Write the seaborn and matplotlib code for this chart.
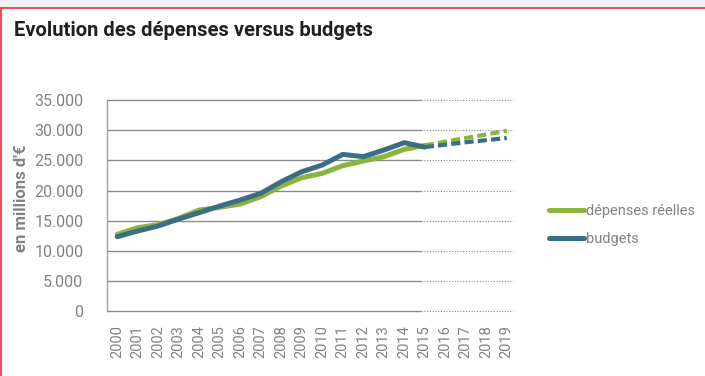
import matplotlib
matplotlib.use("Agg")
import matplotlib.pyplot as plt
from matplotlib import font_manager
from matplotlib.lines import Line2D
from matplotlib.patches import Rectangle
import seaborn as sns
import pandas as pd

years = list(range(2000, 2020))
actual_years = list(range(2000, 2016))
forecast_years = list(range(2015, 2020))

depenses_actual = [12750, 13850, 14350, 15400, 16780, 17220, 17770, 18990,
                   20750, 22130, 22850, 24120, 24890, 25610, 26820, 27480]
budgets_actual = [12360, 13300, 14130, 15290, 16340, 17440, 18430, 19540,
                  21470, 23120, 24230, 25990, 25610, 26710, 27930, 27200]
depenses_forecast = [27480, 28100, 28700, 29300, 29900]
budgets_forecast = [27200, 27600, 28000, 28350, 28700]

yticks = [0, 5000, 10000, 15000, 20000, 25000, 30000, 35000]
ytick_labels = ["0", "5.000", "10.000", "15.000", "20.000", "25.000", "30.000", "35.000"]
series_names = ["dépenses réelles", "budgets"]

GREEN = "#8cb43c"
BLUE = "#3b6e84"
GREY = "#808285"
GRID = "#8a8a8a"

sns.set_theme(style="white")
names = {f.name for f in font_manager.fontManager.ttflist}
narrow = "Liberation Sans Narrow" if "Liberation Sans Narrow" in names else "Roboto"
plt.rcParams["font.family"] = [narrow, "DejaVu Sans"]

fig = plt.figure(figsize=(7.05, 3.76), dpi=100)
fig.patch.set_facecolor("white")
W, H = 705, 376

# top grey strip and red frame
fig.patches.append(Rectangle((0, (H - 7) / H), 1, 7 / H, transform=fig.transFigure,
                             facecolor="#f1f2f4", edgecolor="none", zorder=0))
fig.lines.append(Line2D([0, 1], [(H - 7.5) / H] * 2, transform=fig.transFigure,
                        color="#e8404a", lw=1.3))
fig.lines.append(Line2D([0.6 / W] * 2, [0, (H - 7.5) / H], transform=fig.transFigure,
                        color="#e8404a", lw=1.3))

left, right = 107, 517
top, bottom = 100, 311.3
ax = fig.add_axes([left / W, (H - bottom) / H, (right - left) / W, (bottom - top) / H])
ax.set_facecolor("white")

df_a = pd.DataFrame({
    "year": actual_years * 2,
    "value": depenses_actual + budgets_actual,
    "series": [series_names[0]] * len(actual_years) + [series_names[1]] * len(actual_years),
})
df_f = pd.DataFrame({
    "year": forecast_years * 2,
    "value": depenses_forecast + budgets_forecast,
    "series": [series_names[0]] * len(forecast_years) + [series_names[1]] * len(forecast_years),
})
palette = {series_names[0]: GREEN, series_names[1]: BLUE}

# gridlines: solid through 2015, dotted after
split = 2014.8
for y in yticks:
    ax.hlines(y, 1999.5, split, color=GRID, lw=1.0, zorder=1, clip_on=False)
    ax.hlines(y, split, 2019.3, color=GRID, lw=0.8, linestyles=(0, (1, 1.5)), zorder=1, clip_on=False)

sns.lineplot(data=df_a, x="year", y="value", hue="series", palette=palette,
             lw=3.6, ax=ax, legend=False, zorder=3)
sns.lineplot(data=df_f, x="year", y="value", hue="series", palette=palette,
             lw=3.0, ax=ax, legend=False, zorder=3, dashes=False)
for ln in ax.lines[-2:]:
    ln.set_linestyle((0, (2.2, 1.0)))

ax.set_xlim(1999.5, 2019.5)
ax.set_ylim(0, 35000)
for s in ["top", "right", "bottom"]:
    ax.spines[s].set_visible(False)
ax.spines["left"].set_color("#a0a0a0")
ax.spines["left"].set_linewidth(1.0)

ax.set_yticks(yticks)
ax.set_yticklabels(ytick_labels)
ax.set_xticks(years)
ax.set_xticklabels([str(y) for y in years], rotation=90)
ax.tick_params(axis="y", length=0, pad=17, labelsize=11.5, labelcolor=GREY)
ax.tick_params(axis="x", length=0, pad=10, labelsize=10.5, labelcolor=GREY)
ax.set_xlabel("")
ax.set_ylabel("")

fig.text(22 / W, (H - 198) / H, "en millions d'€", rotation=90, ha="center", va="center",
         fontsize=12, fontweight="bold", color=GREY)
fig.text(14 / W, (H - 30) / H, "Evolution des dépenses versus budgets", ha="left",
         va="center", fontsize=14.5, fontweight="bold", color="#231f20")

handles = [Line2D([], [], color=GREEN, lw=3.6), Line2D([], [], color=BLUE, lw=3.6)]
leg = fig.legend(handles, series_names, loc="center left",
                 bbox_to_anchor=(543 / W, (H - 225) / H), frameon=False,
                 borderaxespad=0, fontsize=10.5, handlelength=2.4, handletextpad=0.15,
                 labelspacing=1.0)
for t in leg.get_texts():
    t.set_color(GREY)

fig.savefig("out.png", dpi=100)
